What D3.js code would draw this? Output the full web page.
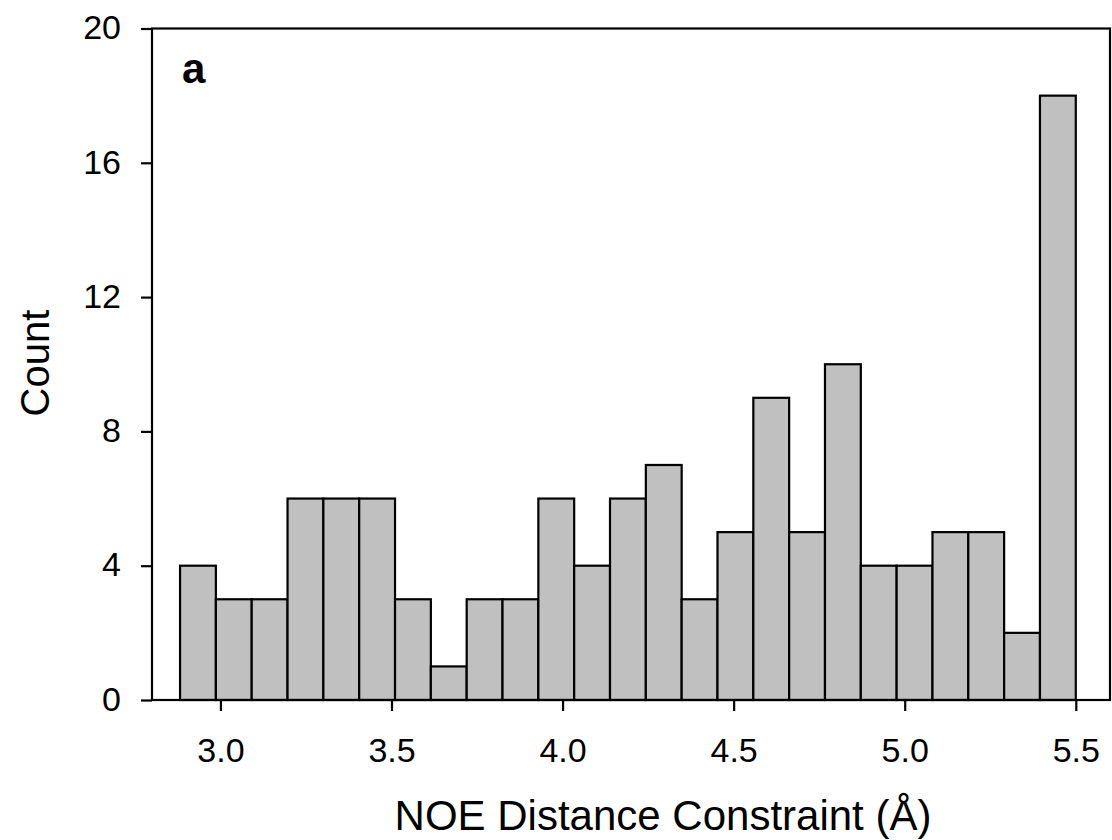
<!DOCTYPE html>
<html>
<head>
<meta charset="utf-8">
<script src="https://cdn.jsdelivr.net/npm/d3@7"></script>
<style>
  html, body { margin: 0; padding: 0; background: #fff; }
  svg { display: block; }
  text { font-family: "Liberation Sans", Arial, sans-serif; fill: #000; }
</style>
</head>
<body>
<svg id="chart" width="1112" height="840"></svg>
<script>
// ---- data ----
const counts = [4, 3, 3, 6, 6, 6, 3, 1, 3, 3, 6, 4, 6, 7, 3, 5, 9, 5, 10, 4, 4, 5, 5, 2, 18];
const binLow = 2.882;   // lower edge of first bin (Å)
const binHigh = 5.5;    // upper edge of last bin (Å)
const xTicks = [3.0, 3.5, 4.0, 4.5, 5.0, 5.5];
const yTicks = [0, 4, 8, 12, 16, 20];
const xDomain = [2.8, 5.6];
const yDomain = [0, 20];
const panelLabel = "a";
const xTitle = "NOE Distance Constraint (Å)";
const yTitle = "Count";

// ---- layout ----
const svg = d3.select("#chart");
const mLeft = 152, mRight = 1110, mTop = 28.5, mBottom = 700;

const x = d3.scaleLinear().domain(xDomain).range([mLeft, mRight]);
const y = d3.scaleLinear().domain(yDomain).range([mBottom, mTop]);

const binW = (binHigh - binLow) / counts.length;
const bins = counts.map((c, i) => ({ x0: binLow + i * binW, x1: binLow + (i + 1) * binW, c }));

// bars
svg.append("g").selectAll("rect").data(bins).join("rect")
  .attr("x", d => x(d.x0))
  .attr("y", d => y(d.c))
  .attr("width", d => x(d.x1) - x(d.x0))
  .attr("height", d => y(0) - y(d.c))
  .attr("fill", "#c0c0c0")
  .attr("stroke", "#000")
  .attr("stroke-width", 2.2);

// frame
svg.append("rect")
  .attr("x", mLeft).attr("y", mTop)
  .attr("width", mRight - mLeft).attr("height", mBottom - mTop)
  .attr("fill", "none").attr("stroke", "#000").attr("stroke-width", 2.2);

// axes
const xAxis = d3.axisBottom(x).tickValues(xTicks).tickFormat(d3.format(".1f")).tickSize(11).tickPadding(20);
const yAxis = d3.axisLeft(y).tickValues(yTicks).tickFormat(d3.format("d")).tickSize(11).tickPadding(20);

const gx = svg.append("g").attr("transform", `translate(0,${mBottom})`).call(xAxis);
const gy = svg.append("g").attr("transform", `translate(${mLeft},0)`).call(yAxis);

[gx, gy].forEach(g => {
  g.select(".domain").remove();
  g.selectAll(".tick line").attr("stroke", "#000").attr("stroke-width", 2.2);
  g.selectAll(".tick text")
    .style("font-family", "'Liberation Sans', Arial, sans-serif")
    .style("font-size", "34px")
    .attr("fill", "#000");
});
gy.selectAll(".tick text").attr("dy", "0.3em");
gx.selectAll(".tick text").attr("dy", "0.9em");

// axis titles
svg.append("text")
  .attr("x", 663)
  .attr("y", 830)
  .attr("text-anchor", "middle")
  .style("font-size", "42px")
  .text(xTitle);

svg.append("text")
  .attr("transform", `translate(49,${(308 + 418) / 2}) rotate(-90)`)
  .attr("text-anchor", "middle")
  .style("font-size", "40px")
  .text(yTitle);

// panel label
svg.append("text")
  .attr("x", 182)
  .attr("y", 83)
  .style("font-size", "42px")
  .style("font-weight", "bold")
  .text(panelLabel);
</script>
</body>
</html>
